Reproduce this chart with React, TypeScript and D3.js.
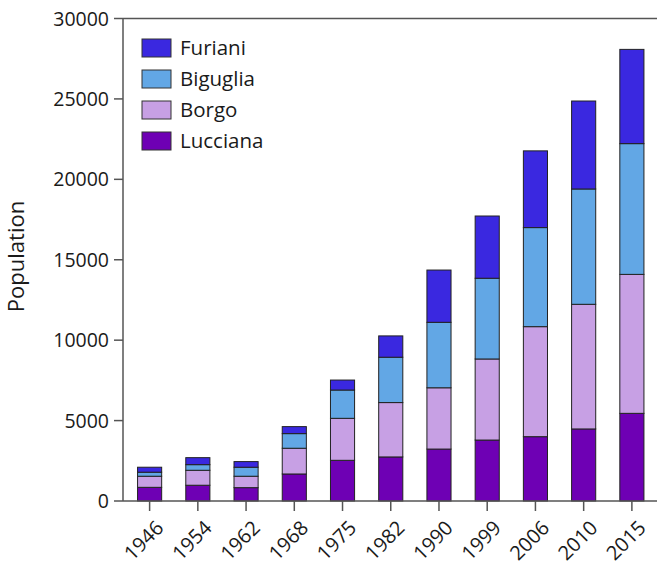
import React from 'react';
import * as d3 from 'd3';

const years = ['1946', '1954', '1962', '1968', '1975', '1982', '1990', '1999', '2006', '2010', '2015'];
const lucciana = [850, 980, 830, 1680, 2530, 2740, 3230, 3790, 4000, 4480, 5450];
const borgo = [690, 930, 710, 1600, 2610, 3380, 3810, 5040, 6840, 7750, 8640];
const biguglia = [250, 350, 560, 910, 1760, 2820, 4070, 5020, 6160, 7170, 8130];
const furiani = [310, 435, 350, 435, 620, 1325, 3250, 3870, 4770, 5470, 5860];
const yTicks = [0, 5000, 10000, 15000, 20000, 25000, 30000];
const seriesNames = ['Lucciana', 'Borgo', 'Biguglia', 'Furiani'];
const seriesColors = ['#6e00b4', '#c7a0e4', '#62a7e5', '#3a28e0'];

const W = 657;
const H = 566;
const FONT = '"Open Sans", "Noto Sans", sans-serif';

export default function App() {
  const x = d3.scaleBand<string>().domain(years).range([125.5, 656]).paddingInner(0.5).paddingOuter(0.25);
  const y = d3.scaleLinear().domain([0, 30000]).range([501, 18.5]);

  const rows = years.map((yr, i) => ({
    year: yr,
    Lucciana: lucciana[i],
    Borgo: borgo[i],
    Biguglia: biguglia[i],
    Furiani: furiani[i],
  }));
  const stacked = d3.stack<any>().keys(seriesNames)(rows);

  const axisX = 123;
  const axisColor = '#555';
  const textColor = '#1a1a1a';
  const legendOrder = [3, 2, 1, 0];

  return (
    <svg width={W} height={H} style={{ position: 'absolute', left: 0, top: 0, background: '#fff' }} fontFamily={FONT}>
      {stacked.map((s, si) => (
        <g key={s.key} fill={seriesColors[si]}>
          {s.map((d, i) => (
            <rect
              key={i}
              x={x(years[i])}
              width={x.bandwidth()}
              y={y(d[1])}
              height={y(d[0]) - y(d[1])}
              stroke="#222"
              strokeWidth={1}
            />
          ))}
        </g>
      ))}
      <line x1={axisX} x2={W} y1={y(30000)} y2={y(30000)} stroke={axisColor} strokeWidth={1.5} />
      <line x1={axisX} x2={axisX} y1={y(30000)} y2={y(0)} stroke={axisColor} strokeWidth={1.5} />
      {yTicks.map((t) => (
        <g key={t} transform={`translate(0,${y(t)})`}>
          <line x1={axisX - 9} x2={axisX} stroke={axisColor} strokeWidth={1.5} />
          <text x={axisX - 14} dy="0.36em" textAnchor="end" fontSize={19.5} fill={textColor}>
            {t}
          </text>
        </g>
      ))}
      <line x1={axisX} x2={W} y1={y(0)} y2={y(0)} stroke={axisColor} strokeWidth={1.5} />
      {years.map((yr) => {
        const cx = (x(yr) as number) + x.bandwidth() / 2;
        return (
          <g key={yr}>
            <line x1={cx} x2={cx} y1={y(0)} y2={y(0) + 10} stroke={axisColor} strokeWidth={1.5} />
            <text
              transform={`translate(${cx + 5},${y(0) + 18}) rotate(-45)`}
              textAnchor="end"
              dy="0.72em"
              fontSize={20}
              fill={textColor}
            >
              {yr}
            </text>
          </g>
        );
      })}
      <text transform={`translate(24,256.5) rotate(-90)`} textAnchor="middle" fontSize={22} fill={textColor}>
        Population
      </text>
      {legendOrder.map((si, k) => (
        <g key={si} transform={`translate(142,${39 + k * 31})`}>
          <rect width={29} height={18} fill={seriesColors[si]} stroke="#333" strokeWidth={1} />
          <text x={38} y={9} dy="0.36em" fontSize={20.5} fill={textColor}>
            {seriesNames[si]}
          </text>
        </g>
      ))}
    </svg>
  );
}
